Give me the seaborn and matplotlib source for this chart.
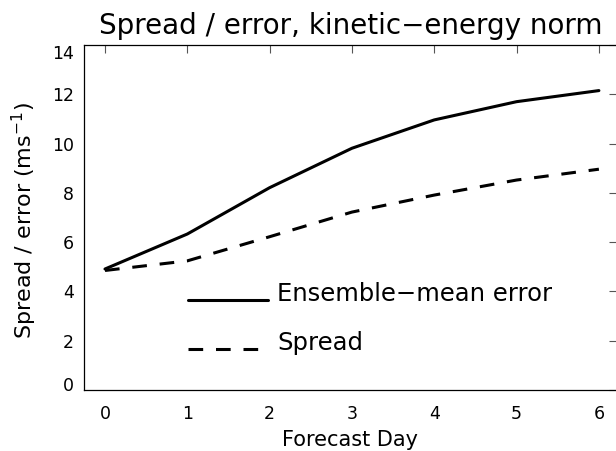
import numpy as np
import pandas as pd
import matplotlib
matplotlib.use("Agg")
import matplotlib.pyplot as plt
import matplotlib.transforms as mtransforms
from matplotlib.legend_handler import HandlerLine2D
import seaborn as sns

# Forecast lead time (days) and the two verification curves
days = [0, 1, 2, 3, 4, 5, 6]
ensemble_mean_error = [4.91, 6.33, 8.21, 9.81, 10.96, 11.70, 12.15]
spread = [4.85, 5.24, 6.22, 7.22, 7.91, 8.52, 8.96]

series_names = ["Ensemble\u2212mean error", "Spread"]
y_ticks = [0, 2, 4, 6, 8, 10, 12, 14]

df = pd.DataFrame({
    "day": days * 2,
    "value": ensemble_mean_error + spread,
    "series": [series_names[0]] * len(days) + [series_names[1]] * len(days),
})

sns.set_theme(style="white")
plt.rcParams["font.family"] = ["DejaVu Sans"]
plt.rcParams["axes.linewidth"] = 0.9
plt.rcParams["text.color"] = "black"
plt.rcParams["axes.labelcolor"] = "black"
plt.rcParams["xtick.labelcolor"] = "black"
plt.rcParams["ytick.labelcolor"] = "black"

fig = plt.figure(figsize=(6.16, 4.51), dpi=100)
ax = fig.add_axes([84 / 616, (451 - 390) / 451, (617 - 84) / 616, 345 / 451])

dash_pattern = (4.8, 4.2)
sns.lineplot(
    data=df, x="day", y="value", style="series",
    dashes={series_names[0]: "", series_names[1]: dash_pattern},
    color="black", linewidth=2.2, ax=ax, legend=True,
)

ax.set_xlim(-0.255, 6.22)
ax.set_ylim(0, 14)
ax.set_xticks(days)
ax.set_yticks(y_ticks)

for s in ax.spines.values():
    s.set_color("black")
    s.set_visible(True)

ax.tick_params(axis="both", which="major", direction="in", length=5.8, width=0.8,
               color="#555555", top=True, right=True, labelsize=12.5)
ax.tick_params(axis="x", pad=11)
ax.tick_params(axis="y", pad=7.2)

# keep the end labels of the value axis inside the frame
ylabels = ax.get_yticklabels()
ylabels[0].set_transform(ylabels[0].get_transform()
                         + mtransforms.ScaledTranslation(0, 6 / 100, fig.dpi_scale_trans))
ylabels[-1].set_transform(ylabels[-1].get_transform()
                          + mtransforms.ScaledTranslation(0, -7 / 100, fig.dpi_scale_trans))

ax.set_xlabel("Forecast Day", fontsize=15)
ax.xaxis.set_label_coords(0.5, -0.115)
ax.set_ylabel("Spread / error (ms$^{-1}$)", fontsize=16)
ax.yaxis.set_label_coords(-0.085, 0.49)
ax.set_title("Spread / error, kinetic\u2212energy norm", fontsize=20, pad=8)


class BaselineLineHandler(HandlerLine2D):
    """Legend sample drawn on the text baseline."""

    def create_artists(self, legend, orig_handle, xdescent, ydescent, width, height,
                       fontsize, trans):
        artists = super().create_artists(legend, orig_handle, xdescent, ydescent,
                                         width, height, fontsize, trans)
        for a in artists:
            a.set_ydata(np.asarray(a.get_ydata()) - 0.3 * fontsize)
        return artists


handles, labels = ax.get_legend_handles_labels()
leg = ax.legend(handles, labels, loc="upper left", bbox_to_anchor=(0.195, 0.313),
                frameon=False, fontsize=17.5, handlelength=3.3, handletextpad=0.37,
                labelspacing=1.04, borderpad=0, borderaxespad=0,
                handler_map={h: BaselineLineHandler() for h in handles})
for h in leg.get_lines():
    h.set_linewidth(2.2)

fig.savefig("out.png", dpi=100)
